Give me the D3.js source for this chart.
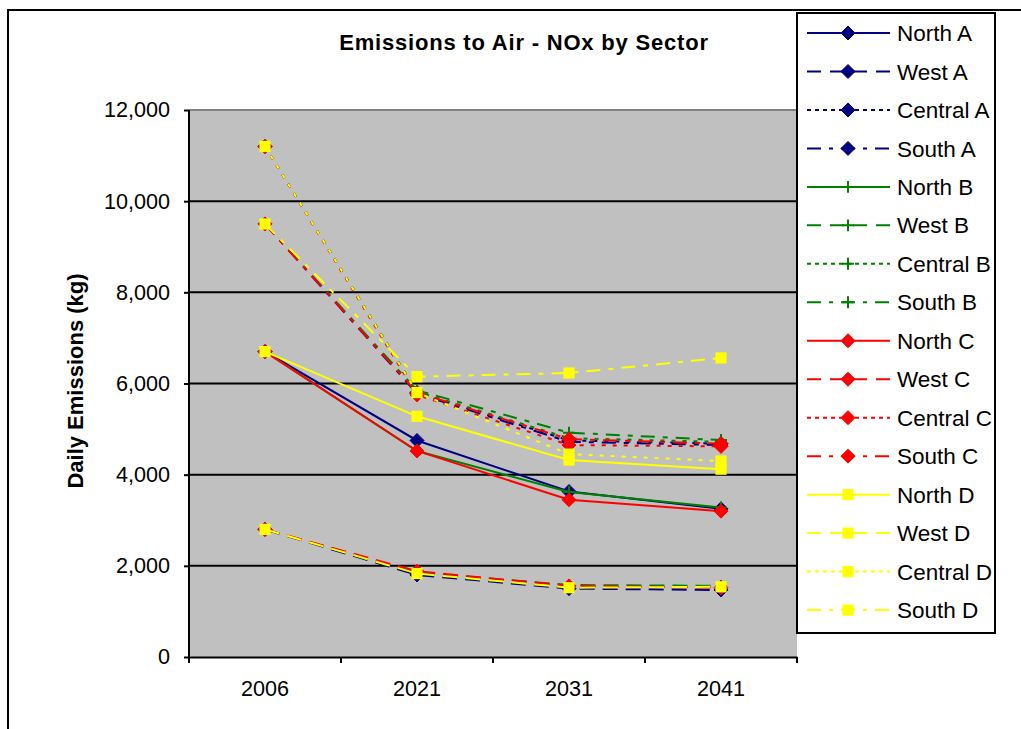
<!DOCTYPE html>
<html>
<head>
<meta charset="utf-8">
<script src="https://cdn.jsdelivr.net/npm/d3@7"></script>
<style>
  html, body { margin: 0; padding: 0; background: #fff; }
  svg { display: block; font-family: "Liberation Sans", Arial, sans-serif; }
</style>
</head>
<body>
<svg id="chart" width="1021" height="729"></svg>
<script>
// ---------------- data ----------------
const categories = ["2006", "2021", "2031", "2041"];
const yTicks = [0, 2000, 4000, 6000, 8000, 10000, 12000];
const titleText = "Emissions to Air - NOx by Sector";
const yTitle = "Daily Emissions (kg)";

const seriesNames = [
  "North A", "West A", "Central A", "South A",
  "North B", "West B", "Central B", "South B",
  "North C", "West C", "Central C", "South C",
  "North D", "West D", "Central D", "South D"
];

const northA   = [6700, 4750, 3630, 3250];
const westA    = [2800, 1800, 1500, 1470];
const centralA = [11200, 5800, 4750, 4680];
const southA   = [9500, 5780, 4720, 4650];

const northB   = [6700, 4520, 3620, 3280];
const westB    = [2800, 1850, 1580, 1560];
const centralB = [11200, 5820, 4800, 4720];
const southB   = [9500, 5850, 4920, 4760];

const northC   = [6700, 4520, 3450, 3200];
const westC    = [2800, 1880, 1560, 1520];
const centralC = [11200, 5750, 4650, 4620];
const southC   = [9500, 5800, 4780, 4680];

const northD   = [6700, 5280, 4320, 4120];
const westD    = [2800, 1830, 1520, 1540];
const centralD = [11200, 5800, 4450, 4300];
const southD   = [9500, 6150, 6230, 6560];

const seriesValues = [
  northA, westA, centralA, southA,
  northB, westB, centralB, southB,
  northC, westC, centralC, southC,
  northD, westD, centralD, southD
];

// ---------------- styles ----------------
const groupColors = ["#000080", "#008000", "#FF0000", "#FFFF00"];
const groupMarkers = ["diamond", "plus", "diamond", "square"];
const regionDashes = [null, "15,8", "4,7", "14,8,5,8"];
const legendDashes = [null, "14,9", "4,4", "14,8,4,8"];

const svg = d3.select("#chart");
const W = 1021, H = 729;

svg.append("rect").attr("x", 0).attr("y", 0).attr("width", W).attr("height", H).attr("fill", "#fff");
// outer chart border
svg.append("rect").attr("x", 8).attr("y", 10).attr("width", 1100).attr("height", 900)
  .attr("fill", "none").attr("stroke", "#000").attr("stroke-width", 2);

const plot = { left: 189, right: 797, top: 110, bottom: 657 };

const x = d3.scaleBand().domain(categories).range([plot.left, plot.right]).padding(0);
const y = d3.scaleLinear().domain([0, 12000]).range([plot.bottom, plot.top]);
const cx = c => x(c) + x.bandwidth() / 2;

// plot area
svg.append("rect").attr("x", plot.left).attr("y", plot.top)
  .attr("width", plot.right - plot.left).attr("height", plot.bottom - plot.top)
  .attr("fill", "#C0C0C0");
svg.append("line").attr("x1", plot.left).attr("x2", plot.right)
  .attr("y1", plot.top).attr("y2", plot.top)
  .attr("stroke", "#808080").attr("stroke-width", 2);

// gridlines
svg.append("g").selectAll("line").data(yTicks.filter(v => v > 0 && v < 12000)).join("line")
  .attr("x1", plot.left).attr("x2", plot.right)
  .attr("y1", d => y(d)).attr("y2", d => y(d))
  .attr("stroke", "#000").attr("stroke-width", 2);

// marker drawing
function drawMarker(g, type, px, py, color, s) {
  if (type === "diamond") {
    const r = s;
    g.append("path").attr("d", `M${px},${py - r}L${px + r},${py}L${px},${py + r}L${px - r},${py}Z`)
      .attr("fill", color).attr("stroke", color).attr("stroke-width", 1);
  } else if (type === "square") {
    const h = s * 0.8;
    g.append("rect").attr("x", px - h).attr("y", py - h).attr("width", 2 * h).attr("height", 2 * h)
      .attr("fill", color);
  } else {
    const h = s * 0.85;
    g.append("path").attr("d", `M${px - h},${py}L${px + h},${py}M${px},${py - h}L${px},${py + h}`)
      .attr("stroke", color).attr("stroke-width", 2).attr("fill", "none");
  }
}

const line = d3.line().x((d, i) => cx(categories[i])).y(d => y(d));

seriesValues.forEach((vals, si) => {
  const grp = Math.floor(si / 4), reg = si % 4;
  const color = groupColors[grp];
  const g = svg.append("g");
  g.append("path").datum(vals).attr("d", line)
    .attr("fill", "none").attr("stroke", color).attr("stroke-width", 2)
    .attr("stroke-dasharray", regionDashes[reg]);
  vals.forEach((v, i) => drawMarker(g, groupMarkers[grp], cx(categories[i]), y(v), color, 7));
});

// y axis
const yAxis = d3.axisLeft(y).tickValues(yTicks).tickFormat(d3.format(",")).tickSize(5).tickPadding(14);
const gy = svg.append("g").attr("transform", `translate(${plot.left},0)`).call(yAxis);
gy.select(".domain").attr("stroke", "#000").attr("stroke-width", 2).attr("d", `M-0,${plot.top}V${plot.bottom}`);
gy.selectAll(".tick line").attr("stroke", "#000").attr("stroke-width", 2);
gy.selectAll(".tick text").attr("font-size", 21.6).attr("fill", "#000")
  .attr("font-family", '"Liberation Sans", Arial, sans-serif');

// x axis
const xAxis = d3.axisBottom(x).tickSize(0).tickPadding(24);
const gx = svg.append("g").attr("transform", `translate(0,${plot.bottom})`).call(xAxis);
gx.select(".domain").attr("stroke", "#000").attr("stroke-width", 2);
gx.selectAll(".tick text").attr("font-size", 21.6).attr("fill", "#000")
  .attr("font-family", '"Liberation Sans", Arial, sans-serif');
const boundaries = categories.map(c => x(c)).concat([x.range()[1]]);
gx.append("g").selectAll("line").data(boundaries).join("line")
  .attr("x1", d => d).attr("x2", d => d).attr("y1", 0).attr("y2", 6)
  .attr("stroke", "#000").attr("stroke-width", 2);

// title
svg.append("text").attr("x", 524).attr("y", 50).attr("text-anchor", "middle")
  .attr("font-size", 22).attr("font-weight", "bold").attr("letter-spacing", "0.8px")
  .text(titleText);

// y title
svg.append("text").attr("transform", "translate(83,381) rotate(-90)").attr("text-anchor", "middle")
  .attr("font-size", 22).attr("font-weight", "bold")
  .text(yTitle);

// legend
const lg = svg.append("g");
lg.append("rect").attr("x", 797).attr("y", 13).attr("width", 198).attr("height", 620)
  .attr("fill", "#fff").attr("stroke", "#000").attr("stroke-width", 2);
seriesNames.forEach((name, si) => {
  const grp = Math.floor(si / 4), reg = si % 4;
  const color = groupColors[grp];
  const ly = 33 + si * 38.47;
  lg.append("line").attr("x1", 807).attr("x2", 890).attr("y1", ly).attr("y2", ly)
    .attr("stroke", color).attr("stroke-width", 2).attr("stroke-dasharray", legendDashes[reg]);
  drawMarker(lg, groupMarkers[grp], 848, ly, color, 7);
  lg.append("text").attr("x", 897).attr("y", ly).attr("dy", "0.36em")
    .attr("font-size", 22.5).attr("fill", "#000").text(name);
});
</script>
</body>
</html>
